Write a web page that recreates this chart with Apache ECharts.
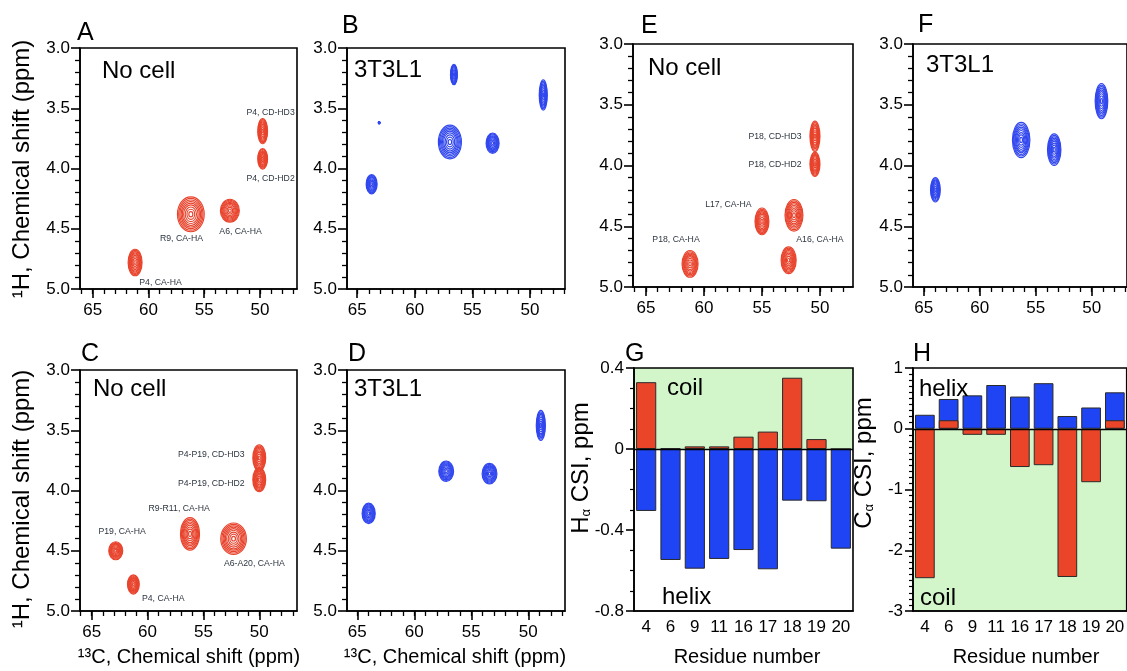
<!DOCTYPE html>
<html><head><meta charset="utf-8">
<script src="https://cdn.jsdelivr.net/npm/echarts@6/dist/echarts.min.js"></script>
<style>html,body{margin:0;padding:0;background:#fff}#c{width:1127px;height:671px}</style>
</head><body><div id="c"></div>
<script>
// ---------------- data ----------------
// NMR peaks: [13C shift (ppm), 1H shift (ppm), 13C linewidth (ppm), 1H linewidth (ppm)]
const peaksA = [[49.76,3.69,0.88,0.21],[49.76,3.92,0.88,0.17],[56.2,4.38,2.4,0.29],[52.7,4.35,1.7,0.19],[61.2,4.78,1.25,0.22]];
const labelsA = [["P4, CD-HD3",49.05,3.54],["P4, CD-HD2",49.05,4.08],["R9, CA-HA",57.04,4.58],["A6, CA-HA",51.74,4.52],["P4, CA-HA",58.92,4.95]];
const peaksB = [[56.6,3.22,0.6,0.17],[48.84,3.39,0.7,0.25],[63.1,3.62,0.15,0.02],[56.95,3.78,2.0,0.28],[53.24,3.79,1.13,0.17],[63.75,4.13,0.95,0.16]];
const peaksC = [[50.0,3.73,1.15,0.22],[50.0,3.91,1.15,0.2],[56.2,4.36,1.7,0.27],[52.3,4.40,2.3,0.26],[62.85,4.50,1.25,0.15],[61.27,4.78,1.05,0.16]];
const labelsC = [["P4-P19, CD-HD3",54.3,3.70],["P4-P19, CD-HD2",54.3,3.94],["R9-R11, CA-HA",57.17,4.15],["P19, CA-HA",62.28,4.34],["A6-A20, CA-HA",50.44,4.61],["P4, CA-HA",58.6,4.90]];
const peaksD = [[64.0,4.19,1.15,0.17],[57.2,3.84,1.3,0.17],[53.4,3.86,1.3,0.17],[48.9,3.46,0.8,0.25]];
const peaksE = [[50.43,3.76,0.86,0.25],[50.43,3.99,0.86,0.2],[55.0,4.46,1.2,0.22],[52.24,4.41,1.55,0.26],[52.7,4.78,1.3,0.22],[61.2,4.81,1.38,0.22]];
const labelsE = [["P18, CD-HD3",53.88,3.76],["P18, CD-HD2",53.88,3.99],["L17, CA-HA",57.9,4.32],["P18, CA-HA",62.41,4.61],["A16, CA-HA",50.0,4.61]];
const peaksF = [[63.96,4.20,0.87,0.2],[56.3,3.79,1.56,0.29],[53.35,3.87,1.2,0.26],[49.13,3.47,1.13,0.29]];

const carbonTicks = [50,55,60,65];
const carbonMinorTicks = [47,48,49,50,51,52,53,54,55,56,57,58,59,60,61,62,63,64,65,66];

const residues = ['4','6','9','11','16','17','18','19','20'];
const haCoil  = [0.33,0.003,0.013,0.013,0.061,0.086,0.352,0.049,0];
const haHelix = [-0.306,-0.548,-0.591,-0.543,-0.499,-0.594,-0.255,-0.258,-0.492];
const caHelix = [0.23,0.49,0.55,0.72,0.53,0.75,0.21,0.35,0.60];
const caCoil  = [-2.46,0.14,-0.10,-0.10,-0.63,-0.60,-2.44,-0.88,0.14];

// ---------------- style / layout ----------------
const FONT = "'Liberation Sans', Arial, Helvetica, sans-serif";
const RED = '#e8432c', BLUE = '#3046ee';
const BAR_RED = '#ea4529', BAR_BLUE = '#1f44f4', GREEN = '#d2f6c9';
const RINGS = [1, 0.91, 0.82, 0.73, 0.64, 0.54, 0.42, 0.29, 0.15];

const nmr = [
  {grid:[80,48,217,241],  x:[46.68,66.14], peaks:peaksA, labels:labelsA, color:RED},
  {grid:[347,48,218,241], x:[46.95,65.89], peaks:peaksB, labels:[], color:BLUE},
  {grid:[80,370,217,241], x:[46.62,66.05], peaks:peaksC, labels:labelsC, color:RED},
  {grid:[347,370,218,241],x:[46.78,65.90], peaks:peaksD, labels:[], color:BLUE},
  {grid:[633,44,220,243], x:[47.15,66.12], peaks:peaksE, labels:labelsE, color:RED},
  {grid:[913,44,220,243], x:[46.85,65.96], peaks:peaksF, labels:[], color:BLUE}
];
const barGrids = [[634,368,219,243],[913,368,219,243]];

const grids = [], xAxes = [], yAxes = [], series = [];
const tickLine = {color:'#000', width:1.6};
function mkGrid(g){ return {left:g[0], top:g[1], width:g[2], height:g[3], show:true, z:5, backgroundColor:'transparent', borderColor:'#000', borderWidth:1.6}; }

nmr.forEach((p, i) => {
  grids.push(mkGrid(p.grid));
  xAxes.push({type:'value', gridIndex:i, position:'bottom', inverse:true, min:p.x[0], max:p.x[1], z:5,
    axisLine:{show:true, onZero:false, lineStyle:tickLine},
    axisTick:{show:true, length:9, customValues:carbonTicks, lineStyle:tickLine},
    axisLabel:{show:true, customValues:carbonTicks, fontSize:17, fontFamily:FONT, color:'#000', margin:13},
    splitLine:{show:false}});
  xAxes.push({type:'value', gridIndex:i, position:'bottom', inverse:true, min:p.x[0], max:p.x[1], z:5,
    axisLine:{show:false}, axisLabel:{show:false},
    axisTick:{show:true, length:5, customValues:carbonMinorTicks, lineStyle:{color:'#000', width:1.3}},
    splitLine:{show:false}});
  yAxes.push({type:'value', gridIndex:i, inverse:true, min:3, max:5, interval:0.5, z:5,
    axisLine:{show:true, onZero:false, lineStyle:tickLine},
    axisTick:{show:true, length:9, lineStyle:tickLine},
    minorTick:{show:true, splitNumber:5, length:5, lineStyle:{color:'#000', width:1.3}},
    axisLabel:{fontSize:17, fontFamily:FONT, color:'#000', margin:10, formatter:v=>v.toFixed(1)},
    splitLine:{show:false}});
  const col = p.color;
  series.push({type:'custom', xAxisIndex:2*i, yAxisIndex:i, data:p.peaks, silent:true, z:3,
    renderItem:(params, api) => {
      const x = api.value(0), y = api.value(1);
      const c = api.coord([x, y]);
      const s = api.size([api.value(2), api.value(3)], [x, y]);
      const rx = s[0]/2, ry = s[1]/2;
      return {type:'group', children: RINGS.map(f => ({type:'ellipse',
        shape:{cx:c[0], cy:c[1], rx:Math.max(rx*f,0.6), ry:Math.max(ry*f,0.6)},
        style:{fill:null, stroke:col, lineWidth:1.15}}))};
    }});
  if (p.labels.length) {
    const labs = p.labels;
    series.push({type:'custom', xAxisIndex:2*i, yAxisIndex:i, silent:true, z:4,
      data: labs.map(l => [l[1], l[2]]),
      renderItem:(params, api) => {
        const c = api.coord([api.value(0), api.value(1)]);
        return {type:'text', x:c[0], y:c[1], style:{text:labs[params.dataIndex][0], fontSize:8.7, fontFamily:FONT, fill:'#2e3640', align:'center', verticalAlign:'middle'}};
      }});
  }
});

// bar panels
const barCfg = [
  {ymin:-0.8, ymax:0.4, interval:0.4, minor:4, green:[0,0.4], first:haHelix, second:haCoil},
  {ymin:-3, ymax:1, interval:1, minor:10, green:[-3,0], first:caHelix, second:caCoil}
];
barCfg.forEach((b, k) => {
  const gi = 6 + k;
  grids.push(mkGrid(barGrids[k]));
  xAxes.push({type:'category', gridIndex:gi, position:'bottom', data:residues, z:5,
    axisLine:{show:true, onZero:false, lineStyle:tickLine}, axisTick:{show:false},
    axisLabel:{fontSize:17, fontFamily:FONT, color:'#000', margin:8, interval:0}, splitLine:{show:false}});
  yAxes.push({type:'value', gridIndex:gi, min:b.ymin, max:b.ymax, interval:b.interval, z:5,
    axisLine:{show:true, onZero:false, lineStyle:tickLine},
    axisTick:{show:true, length:8, lineStyle:tickLine},
    minorTick:{show:true, splitNumber:b.minor, length:4, lineStyle:{color:'#000', width:1.2}},
    axisLabel:{fontSize:17, fontFamily:FONT, color:'#000', margin:10,
      formatter:v => Math.abs(v) < 1e-9 ? '0' : (b.interval < 1 ? v.toFixed(1) : String(Math.round(v)))},
    splitLine:{show:false}});
  const xi = 12 + k, yi = gi;
  series.push({type:'bar', xAxisIndex:xi, yAxisIndex:yi, data:[], z:1, silent:true,
    markArea:{silent:true, itemStyle:{color:GREEN}, data:[[{yAxis:b.green[0]},{yAxis:b.green[1]}]]}});
  series.push({type:'bar', xAxisIndex:xi, yAxisIndex:yi, data:b.first, z:3, barGap:'-100%', barCategoryGap:'17%', silent:true,
    itemStyle:{color:BAR_BLUE, borderColor:'#2a2a2a', borderWidth:1}});
  series.push({type:'bar', xAxisIndex:xi, yAxisIndex:yi, data:b.second, z:3, barGap:'-100%', barCategoryGap:'17%', silent:true,
    itemStyle:{color:BAR_RED, borderColor:'#2a2a2a', borderWidth:1},
    markLine:{silent:true, symbol:'none', label:{show:false}, lineStyle:{color:'#000', width:1.3, type:'solid'}, data:[{yAxis:0}]}});
});

// ---------------- text ----------------
function T(x, y, text, size, extra) {
  return {type:'text', x:x, y:y, z:100, silent:true,
    style:Object.assign({text:text, fontSize:size, fontFamily:FONT, fill:'#000', align:'left', verticalAlign:'middle'}, extra || {})};
}
function R(x, y, text, size, rich) {
  return {type:'text', x:x, y:y, z:100, silent:true, rotation:Math.PI/2,
    style:{text:text, fontSize:size, fontFamily:FONT, fill:'#000', align:'center', verticalAlign:'middle', rich:rich || {}}};
}
const subRich = {a:{fontSize:24,fontFamily:FONT,fill:'#000'},s:{fontSize:13,fontFamily:FONT,fill:'#000',verticalAlign:'bottom'}};
const graphics = [
  T(77,33,'A',25), T(342,26,'B',25), T(81,354,'C',25), T(348,354,'D',25),
  T(641,26,'E',25), T(918,25,'F',25), T(625,354,'G',25), T(913,354,'H',25),
  T(102,71,'No cell',24), T(354,70,'3T3L1',24), T(93,389,'No cell',24), T(354,389,'3T3L1',24),
  T(648,68,'No cell',24), T(926,65,'3T3L1',24),
  T(667,388,'coil',24), T(662,597,'helix',24), T(919,389,'helix',24), T(920,598,'coil',24),
  R(22,169,'\u00b9H, Chemical shift (ppm)',24), R(22,499,'\u00b9H, Chemical shift (ppm)',24),
  T(189,657,'\u00b9\u00b3C, Chemical shift (ppm)',20,{align:'center'}),
  T(455,657,'\u00b9\u00b3C, Chemical shift (ppm)',20,{align:'center'}),
  T(747,657,'Residue number',20,{align:'center'}),
  T(1026,657,'Residue number',20,{align:'center'}),
  R(581,468,'{a|H}{s|\u03b1}{a| CSI, ppm}',24,subRich),
  R(864,463,'{a|C}{s|\u03b1}{a| CSI, ppm}',24,subRich)
];

const chart = echarts.init(document.getElementById('c'), null, {renderer:'canvas'});
chart.setOption({
  animation:false, backgroundColor:'#fff',
  grid:grids, xAxis:xAxes, yAxis:yAxes, series:series, graphic:graphics
});
</script></body></html>
